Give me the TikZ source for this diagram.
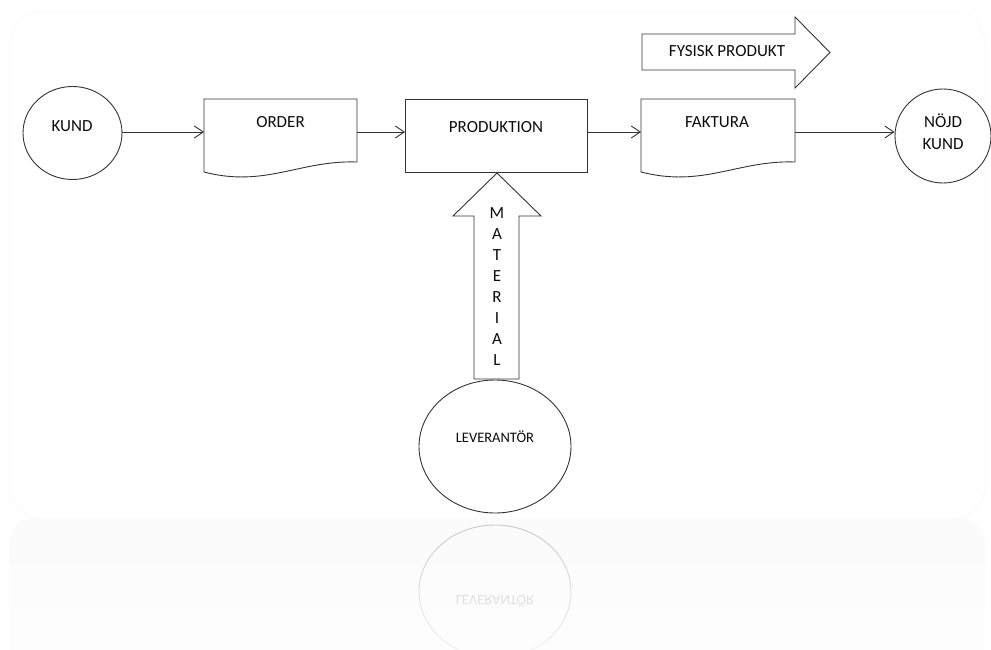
\documentclass[tikz,border=0pt]{standalone}
\usepackage{fontspec}
\setmainfont{Carlito}
\usetikzlibrary{arrows.meta,fadings,shapes.geometric}
\tikzfading[name=reflfade, top color=transparent!100, bottom color=transparent!25]
\begin{document}
\begin{tikzpicture}[x=1pt,y=-1pt,
  line/.style={draw=black!80, line width=0.9pt},
  conn/.style={line, -{Straight Barb[length=9pt,width=12pt]}},
  lbl/.style={font=\fontsize{17}{20}\selectfont, text=black!95, inner sep=0pt},
  ghost/.style={inner sep=0pt, outer sep=0pt, anchor=north west},
  oval/.style={ellipse, line, fill=white, inner sep=0pt},
]
\useasboundingbox (0,0) rectangle (991,650);
\fill[white] (0,0) rectangle (991,650);
% reflection area and frame
\fill[black!1.5, rounded corners=25pt] (9,518) rectangle (985,680);
\draw[black!4, fill=white, rounded corners=33pt] (10,11) rectangle (985,519);

% reflection of the supplier ellipse
\begin{scope}
  \clip (0,520) rectangle (991,650);
  \draw[black!22, line width=0.9pt] (495,591.5) ellipse [x radius=76, y radius=66.5];
  \node[lbl, text=black!22, font=\fontsize{14.5}{17}\selectfont] (levrefl) at (495,601) {\scalebox{1}[-1]{LEVERANTÖR}};
\end{scope}
\fill[white, path fading=reflfade] (0,521) rectangle (991,651);

% customer
\node[oval, minimum width=99pt, minimum height=93pt] (kund) at (72.5,133) {};
\node[lbl] (kundtxt) at (72,126) {KUND};

% order document
\node[ghost, minimum width=153pt, minimum height=66pt] (order) at (204,99) {};
\draw[line, fill=white] (204,99) -- (357,99) -- (357,162)
  .. controls (300,160) and (265,188) .. (204,172) -- cycle;
\node[lbl] (ordertxt) at (280.5,122) {ORDER};

% production
\node[ghost, line, minimum width=182pt, minimum height=73pt] (prod) at (405,99) {};
\node[lbl] (prodtxt) at (496,127) {PRODUKTION};

% invoice document
\node[ghost, minimum width=154pt, minimum height=66pt] (fak) at (641,99) {};
\draw[line, fill=white] (641,99) -- (795,99) -- (795,162)
  .. controls (738,160) and (703,188) .. (641,172) -- cycle;
\node[lbl] (faktxt) at (717,122) {FAKTURA};

% satisfied customer
\node[oval, minimum width=96pt, minimum height=94pt] (nojd) at (943,136) {};
\node[lbl, align=center, font=\fontsize{17}{22}\selectfont] (nojdtxt) at (943,132) {NÖJD\\KUND};

% physical product arrow
\draw[line, fill=white] (642,34) -- (795,34) -- (795,17) -- (830,52.5) -- (795,88) -- (795,70) -- (642,70) -- cycle;
\node[lbl] (fysisk) at (727,51) {FYSISK PRODUKT};

% supplier
\node[oval, minimum width=152pt, minimum height=133pt] (lev) at (495,446.5) {};
\node[lbl, font=\fontsize{14.5}{17}\selectfont] (levtxt) at (495,437) {LEVERANTÖR};

% material arrow
\draw[line, fill=white] (497,173) -- (541,216) -- (519,216) -- (519,379) -- (474,379) -- (474,216) -- (453,216) -- cycle;
\node[lbl, align=center, font=\fontsize{17}{21}\selectfont] (mat) at (497,287) {M\\A\\T\\E\\R\\I\\A\\L};

% connectors
\draw[conn] (kund.east |- order.west) -- (order.west);
\draw[conn] (order.east) -- (prod.west |- order.east);
\draw[conn] (prod.east |- fak.west) -- (fak.west);
\draw[conn] (fak.east) -- (nojd.west |- fak.east);
\end{tikzpicture}
\end{document}
